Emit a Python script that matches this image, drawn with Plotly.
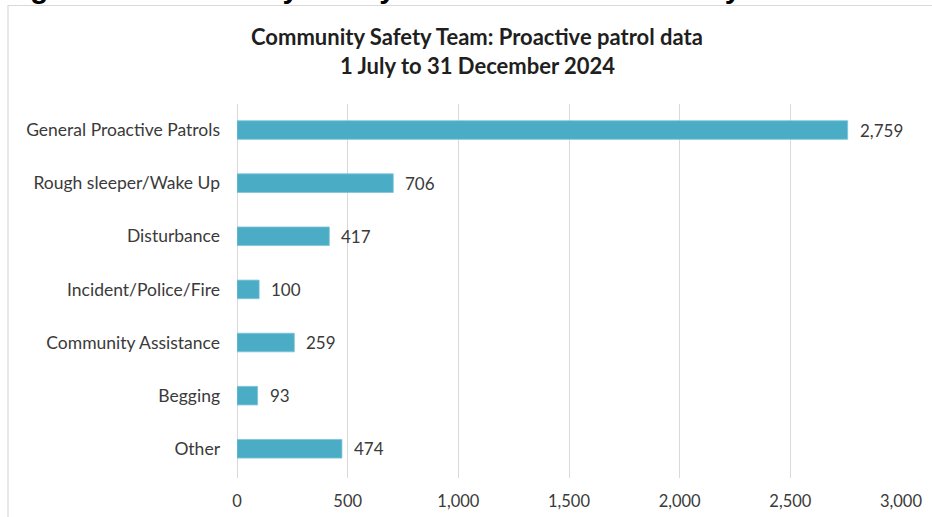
import plotly.graph_objects as go

# Proactive patrol categories and counts, 1 July - 31 December 2024
categories = [
    "General Proactive Patrols",
    "Rough sleeper/Wake Up",
    "Disturbance",
    "Incident/Police/Fire",
    "Community Assistance",
    "Begging",
    "Other",
]
patrols = [2759, 706, 417, 100, 259, 93, 474]
x_ticks = [0, 500, 1000, 1500, 2000, 2500, 3000]

BAR = "#4BACC6"
TXT = "#3A3A3A"
GRID = "#D9D9D9"
FONT = "Lato"

fig = go.Figure()
fig.add_trace(go.Bar(
    x=patrols,
    y=categories,
    orientation="h",
    width=0.35,
    marker=dict(color=BAR, line=dict(color="#7CC4D8", width=0.8)),
    hoverinfo="x+y",
))

# value labels just past each bar end
for cat, val in zip(categories, patrols):
    fig.add_annotation(
        x=val, y=cat, xref="x", yref="y",
        text=f"{val:,}", showarrow=False,
        xanchor="left", xshift=10,
        font=dict(family=FONT, size=17, color=TXT),
    )

# chart title (two centred lines)
fig.add_annotation(
    x=(477 - 237) / 664, y=(478 - 37) / 374, xref="paper", yref="paper",
    text="<b>Community Safety Team: Proactive patrol data</b>",
    showarrow=False, xanchor="center", yanchor="middle",
    font=dict(family=FONT, size=22, color="#1F1F1F"),
)
fig.add_annotation(
    x=(477 - 237) / 664, y=(478 - 65) / 374, xref="paper", yref="paper",
    text="<b>1 July to 31 December 2024</b>",
    showarrow=False, xanchor="center", yanchor="middle",
    font=dict(family=FONT, size=22, color="#1F1F1F"),
)

# document caption running above the chart frame
fig.add_annotation(
    x=(2 - 237) / 664, y=(478 + 12.5) / 374, xref="paper", yref="paper",
    text="<b>Figure 5: Community Safety Team Patrol data: 1 July to 31 December 2024</b>",
    showarrow=False, xanchor="left", yanchor="middle",
    font=dict(family="Liberation Sans", size=29.5, color="#000000"),
)

# chart frame
fig.add_shape(
    type="rect", xref="paper", yref="paper",
    x0=(8 - 237) / 664, x1=(940 - 237) / 664,
    y0=(478 - 530) / 374, y1=(478 - 5.5) / 374,
    line=dict(color="#D9D9D9", width=1.2), fillcolor="rgba(0,0,0,0)",
    layer="below",
)

fig.update_layout(
    width=932, height=517,
    margin=dict(l=237, r=31, t=104, b=39, autoexpand=False),
    paper_bgcolor="white", plot_bgcolor="white",
    showlegend=False,
    font=dict(family=FONT, size=16, color=TXT),
)
fig.update_xaxes(
    range=[0, 3000], tickvals=x_ticks, tickformat=",",
    showgrid=True, gridcolor=GRID, gridwidth=1,
    zeroline=True, zerolinecolor=GRID, zerolinewidth=1,
    showline=False, ticks="", ticklabelstandoff=11,
    tickfont=dict(family=FONT, size=16.5, color=TXT),
    automargin=False, fixedrange=True,
)
fig.update_yaxes(
    categoryorder="array", categoryarray=categories,
    range=[6.55, -0.49],
    showgrid=False, zeroline=False, showline=False, ticks="",
    ticklabelstandoff=16,
    tickfont=dict(family=FONT, size=17.5, color=TXT),
    automargin=False, fixedrange=True,
)

fig.write_html("out.html")
